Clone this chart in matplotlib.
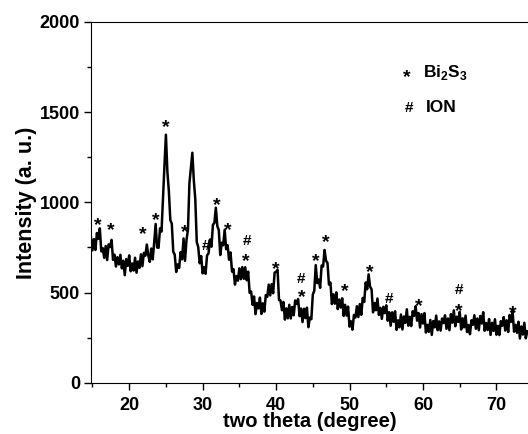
import matplotlib.pyplot as plt
import numpy as np

plt.rcParams['font.family'] = ['Liberation Sans', 'DejaVu Sans']
plt.rcParams['font.weight'] = 'bold'

# XRD pattern, one value every 0.2 degree from 14.8
intensity = [
    804, 734, 796, 736, 830, 798, 856, 728, 746, 692,
    758, 680, 767, 752, 792, 681, 710, 644, 696, 656,
    709, 634, 676, 596, 685, 648, 706, 618, 661, 622,
    693, 610, 672, 637, 712, 646, 720, 704, 766, 706,
    670,
    744, 684, 776, 880, 750, 748, 856, 838, 1023, 1202,
    1375, 1170, 1062, 902, 882, 726, 710, 614, 656, 636,
    724, 684, 800, 676, 790, 848, 1106, 1188, 1275, 1122,
    1018, 780, 752, 662, 702, 606, 640, 604, 706, 716,
    794, 754, 876, 886, 970, 868, 846, 708, 776, 762,
    848, 740, 762, 682, 722, 616, 630, 544, 591, 566,
    634, 574, 641, 576, 640, 568, 616, 498, 506, 432,
    478, 380, 442, 412, 472, 381, 440, 394, 486, 476,
    544, 484, 546, 496, 610, 615, 626, 458, 456, 402,
    448, 350, 412, 357, 432, 356, 420, 374, 456, 436,
    464, 369, 411, 336, 410, 358, 416, 308, 361, 352,
    488, 510, 652, 552, 572, 526, 650, 644, 736, 676,
    664, 544, 556, 436, 490, 438, 501, 408, 461, 417,
    468, 370, 432, 372, 422, 311, 340, 294, 376, 361,
    424, 364, 436, 376, 470, 448, 556, 518, 601, 532,
    518, 390, 442, 402, 467, 376, 415, 354, 421, 386,
    429, 344, 391, 316, 390, 338, 396, 293, 346, 307,
    378, 295, 367, 332, 407, 316, 365, 314, 396, 371,
    424, 344, 386, 306, 380, 328, 386, 278, 321, 282,
    348, 265, 342, 307, 372, 291, 340, 289, 356, 331,
    374, 299, 356, 291, 380, 333, 401, 313, 366, 337,
    393, 295, 357, 307, 372, 281, 320, 269, 346, 321,
    374, 299, 356, 291, 370, 328, 391, 288, 331, 292,
    353, 265, 332, 287, 352, 266, 315, 264, 341, 316,
    364, 289, 346, 281, 375, 338, 396, 283, 321, 277,
    338, 245, 312, 267, 332, 246, 285,
]
two_theta = 14.8 + 0.2 * np.arange(len(intensity))

# peak markers: (symbol, 2theta, height)
marks = [
    ('*', 15.74, 904), ('*', 17.55, 876), ('*', 21.87, 858), ('*', 23.68, 932),
    ('*', 25.04, 1450), ('*', 27.55, 867), ('#', 30.45, 756), ('*', 31.91, 1015),
    ('*', 33.49, 876), ('#', 36.08, 783), ('*', 35.86, 704), ('*', 39.95, 663),
    ('#', 43.45, 576), ('*', 43.49, 506), ('*', 45.44, 709), ('*', 46.76, 811),
    ('*', 49.39, 543), ('*', 52.79, 648), ('#', 55.31, 463), ('*', 59.37, 459),
    ('#', 64.85, 515), ('*', 64.82, 432), ('*', 72.2, 421),
]

fig = plt.figure(figsize=(5.28, 4.34), dpi=100)
ax = fig.add_axes([91 / 528, 51.3 / 434, 1 - 91 / 528, 360.7 / 434])

ax.plot(two_theta, intensity, color='black', lw=1.8)

for sym, xm, ym in marks:
    if sym == '*':
        ax.text(xm, ym - 35, '*', ha='center', va='center', fontsize=14, fontweight='bold')
    else:
        ax.text(xm, ym, '#', ha='center', va='center', fontsize=11, fontweight='bold')

ax.text(407 / 528, 1 - 78 / 434, '*', transform=fig.transFigure, ha='center', va='center',
        fontsize=14, fontweight='bold')
ax.text(423 / 528, 1 - 73 / 434, r'Bi$_\mathregular{2}$S$_\mathregular{3}$', transform=fig.transFigure,
        ha='left', va='center', fontsize=12.5, fontweight='bold')
ax.text(409 / 528, 1 - 108 / 434, '#', transform=fig.transFigure, ha='center', va='center',
        fontsize=11, fontweight='bold')
ax.text(426 / 528, 1 - 108 / 434, 'ION', transform=fig.transFigure, ha='left', va='center',
        fontsize=12.5, fontweight='bold')

ax.set_xlim(14.8, 74.3)
ax.set_ylim(0, 2000)
ax.set_xticks([20, 30, 40, 50, 60, 70])
ax.set_xticks([15, 25, 35, 45, 55, 65], minor=True)
ax.set_yticks([0, 500, 1000, 1500, 2000])
ax.set_yticks([250, 750, 1250, 1750], minor=True)
ax.tick_params(which='major', direction='out', length=5, width=1, labelsize=13, pad=3)
ax.tick_params(which='minor', direction='out', length=3, width=1)
ax.tick_params(axis='x', which='major', pad=5)
for lab in ax.get_xticklabels() + ax.get_yticklabels():
    lab.set_fontweight('bold')
ax.spines['right'].set_visible(False)

ax.set_xlabel('two theta (degree)', fontsize=14.5, fontweight='bold', labelpad=-1)
ax.set_ylabel('Intensity (a. u.)', fontsize=15.5, fontweight='bold', labelpad=2)

fig.savefig('out.png', dpi=100)
